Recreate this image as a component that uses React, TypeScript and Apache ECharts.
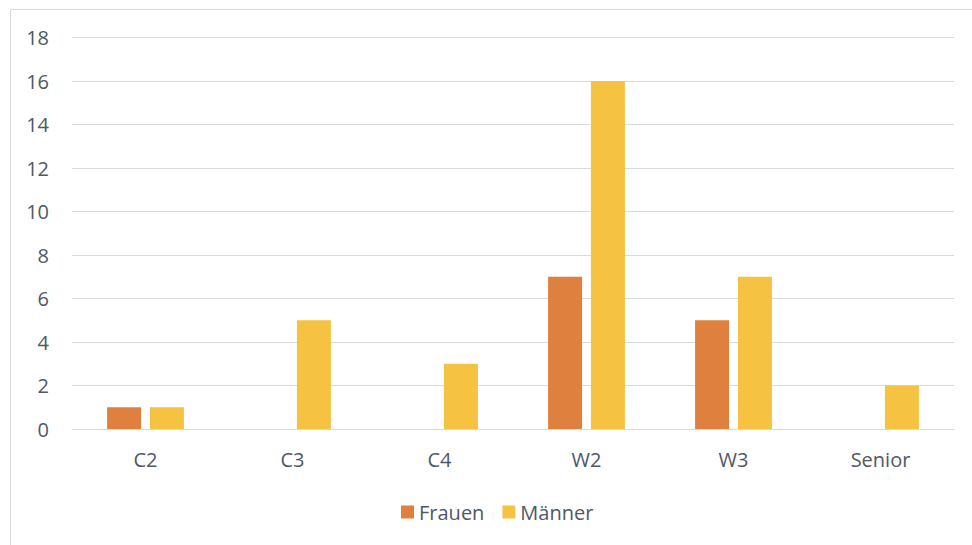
import React, { useEffect, useRef } from "react";
import * as echarts from "echarts";

const categories = ["C2", "C3", "C4", "W2", "W3", "Senior"];
const frauen = [1, 0, 0, 7, 5, 0];
const maenner = [1, 5, 3, 16, 7, 2];
const yTicks = { min: 0, max: 18, interval: 2 };

const FONT = "'Open Sans', 'Noto Sans', sans-serif";
const TEXT = "#4f5866";

export default function App() {
  const ref = useRef<HTMLDivElement>(null);

  useEffect(() => {
    if (!ref.current) return;
    const chart = echarts.init(ref.current, undefined, { renderer: "svg" });
    chart.setOption({
      animation: false,
      backgroundColor: "#ffffff",
      textStyle: { fontFamily: FONT },
      graphic: [
        {
          type: "rect",
          shape: { x: 10.5, y: 9.5, width: 1000, height: 600 },
          style: { fill: "none", stroke: "#d9d9d9", lineWidth: 1 },
          silent: true,
        },
      ],
      grid: { left: 72, right: 18, top: 37.5, bottom: 116, containLabel: false },
      legend: {
        top: 497,
        left: 396,
        itemWidth: 13,
        itemHeight: 13,
        itemGap: 18,
        icon: "rect",
        textStyle: { color: TEXT, fontSize: 20, fontFamily: FONT },
        data: ["Frauen", "Männer"],
      },
      xAxis: {
        type: "category",
        data: categories,
        axisLine: { show: true, lineStyle: { color: "#d9d9d9" } },
        axisTick: { show: false },
        axisLabel: { color: TEXT, fontSize: 20, margin: 20, fontFamily: FONT },
      },
      yAxis: {
        type: "value",
        min: yTicks.min,
        max: yTicks.max,
        interval: yTicks.interval,
        axisLine: { show: false },
        axisTick: { show: false },
        axisLabel: { color: TEXT, fontSize: 20, margin: 23, fontFamily: FONT },
        splitLine: { lineStyle: { color: "#d9d9d9" } },
      },
      series: [
        {
          name: "Frauen",
          type: "bar",
          data: frauen,
          barWidth: 34,
          barGap: "26%",
          itemStyle: { color: "#E0803F" },
        },
        {
          name: "Männer",
          type: "bar",
          data: maenner,
          barWidth: 34,
          barGap: "26%",
          itemStyle: { color: "#F5C242" },
        },
      ],
    });
    return () => chart.dispose();
  }, []);

  return (
    <div
      ref={ref}
      style={{ position: "absolute", left: 0, top: 0, width: 972, height: 545 }}
    />
  );
}
